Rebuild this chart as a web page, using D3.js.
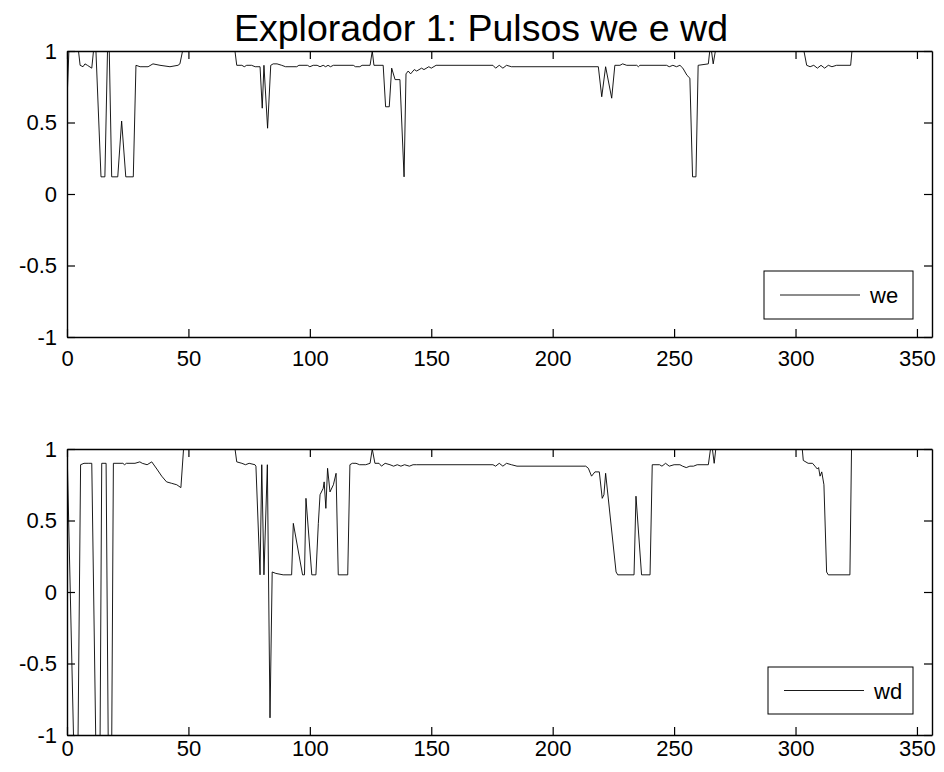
<!DOCTYPE html>
<html><head><meta charset="utf-8">
<script src="https://cdn.jsdelivr.net/npm/d3@7"></script>
<style>body{margin:0;background:#fff;}svg{display:block;font-family:Arial,"Liberation Sans",sans-serif;}</style>
</head><body>
<script>
const titleText = "Explorador 1: Pulsos we e wd";
const xTicks = [0,50,100,150,200,250,300,350];
const yTicks = [-1,-0.5,0,0.5,1];
const yTickLabels = ["-1","-0.5","0","0.5","1"];
const weX = [0,1,4.4,5.4,6.6,7.4,8.4,10.2,11.2,11.8,14.0,15.6,16.8,17.3,18.4,20.9,22.5,24.2,27.3,28.4,30.1,33.4,35.4,38.3,42.4,45.7,46.5,48.2,68.8,69.9,72,73,74,76,77.5,79.5,80.4,81.1,82.6,83.9,84.9,86.5,88.4,90,94.6,95.5,99,100,101.4,103,104.2,105.5,106.5,107.5,108.5,109.7,117.9,118.8,120.6,121.5,124.8,125.7,126.4,130.2,131.2,132.7,133.7,135.1,137.1,138.8,139.6,140.5,141.5,143,144,146,147,149,150,152,175.4,176.5,178,179.5,181,183,185.3,218.8,220.2,221.8,224.3,225.6,227.7,228.8,230.5,234.6,235.3,235.9,246.9,248,249.5,251,252.4,253.6,255.3,256.5,257.6,259,259.9,264.1,265,266.1,267.5,302.9,304.6,306,307.5,309,310.5,312,313.5,315,316.9,322.7,323.5,356];
const weY = [0.65,1.1,1.05,0.9,0.89,0.91,0.9,0.88,1.05,1.05,0.12,0.12,1.1,1.1,0.12,0.12,0.51,0.12,0.12,0.9,0.89,0.89,0.91,0.9,0.89,0.9,0.91,1.05,1.05,0.9,0.9,0.89,0.9,0.9,0.89,0.89,0.6,0.9,0.46,0.9,0.91,0.91,0.9,0.89,0.89,0.9,0.9,0.89,0.9,0.9,0.89,0.9,0.89,0.9,0.89,0.9,0.9,0.89,0.89,0.9,0.9,1.0,0.9,0.9,0.61,0.61,0.88,0.8,0.8,0.12,0.84,0.86,0.84,0.87,0.86,0.88,0.87,0.89,0.88,0.9,0.9,0.88,0.9,0.88,0.9,0.89,0.89,0.89,0.68,0.89,0.67,0.9,0.9,0.91,0.9,0.9,0.89,0.9,0.9,0.89,0.9,0.89,0.9,0.88,0.83,0.81,0.12,0.12,0.9,0.91,1.05,0.91,1.05,1.05,0.9,0.89,0.9,0.88,0.9,0.88,0.9,0.89,0.9,0.9,1.05,1.05];
const wdX = [0,2.8,4.5,5.6,7,9,10.2,11.9,13.6,14.3,16.1,17.0,18.4,19.1,23,23.7,24.5,28,30,31,33,34.9,37,39,41,43.1,45.2,46.9,48.2,68.8,69.9,72,73.5,75,77.4,77.8,79.5,80.2,81.1,82.5,83.6,84.5,86,89,92.5,93.2,97,97.8,98.4,100.8,102.5,103.5,104.2,105.5,105.9,106.6,107.3,108.3,109.7,110.8,111.7,115.6,116.5,117.5,119,120.5,123,124.8,125.7,126.8,128.5,129.5,131,133,134.5,136,137.5,139,141,142.5,144,175.4,176.5,178,179.5,181,183,185.3,213.6,214.7,216,217.4,219.2,220.4,221.1,221.8,226.1,226.8,233.5,234.3,236.6,240.1,241,244,245,246.5,248,250,252.4,253.5,255,256.5,258,259.5,264.1,265.4,266.5,267.5,302.5,303.2,305.2,307,308,309,309.5,310.1,310.8,311.7,312.8,313.5,322.4,323.1,356];
const wdY = [1.02,-1.1,-1.1,0.89,0.9,0.9,0.9,-1.1,-1.1,0.9,0.9,-1.1,-1.1,0.9,0.9,0.89,0.9,0.9,0.91,0.9,0.89,0.91,0.86,0.81,0.77,0.76,0.75,0.73,1.05,1.05,0.91,0.9,0.89,0.9,0.89,0.88,0.12,0.89,0.12,0.89,-0.88,0.14,0.13,0.12,0.12,0.48,0.12,0.12,0.655,0.12,0.12,0.48,0.68,0.725,0.77,0.585,0.865,0.70,0.75,0.83,0.12,0.12,0.89,0.9,0.9,0.89,0.89,0.9,1.0,0.9,0.9,0.88,0.9,0.89,0.88,0.89,0.88,0.89,0.88,0.89,0.89,0.89,0.88,0.9,0.88,0.9,0.89,0.88,0.88,0.865,0.81,0.84,0.84,0.655,0.68,0.83,0.14,0.12,0.12,0.67,0.12,0.12,0.89,0.89,0.88,0.9,0.88,0.89,0.89,0.88,0.87,0.88,0.88,0.89,0.89,1.05,0.9,1.05,1.05,0.92,0.9,0.9,0.88,0.86,0.87,0.81,0.84,0.75,0.14,0.12,0.12,1.05,1.05];
const seriesNames = ["we","wd"];

const W = 944, H = 772;
const svg = d3.select("body").append("svg").attr("width", W).attr("height", H);

svg.append("text").attr("x", 481).attr("y", 41).attr("text-anchor","middle")
  .attr("font-size", 37.5).attr("fill","#000").text(titleText);

const panels = [
  {top: 51, bottom: 337, pad: 13, xs: weX, ys: weY, name: seriesNames[0], leg: {x0: 764, x1: 913, y0: 271, y1: 319}},
  {top: 449, bottom: 735, pad: 5, xs: wdX, ys: wdY, name: seriesNames[1], leg: {x0: 768, x1: 913, y0: 667, y1: 714}}
];
const left = 67, right = 932, tick = 8, fs = 22;

panels.forEach((p, i) => {
  const x = d3.scaleLinear().domain([0, 356.2]).range([left, right]);
  const y = d3.scaleLinear().domain([-1, 1]).range([p.bottom, p.top]);
  const g = svg.append("g");
  const cid = "clip" + i;
  g.append("clipPath").attr("id", cid).append("rect")
    .attr("x", left).attr("y", p.top).attr("width", right - left).attr("height", p.bottom - p.top);
  const pts = p.xs.map((v, k) => [v, p.ys[k]]);
  g.append("path").datum(pts).attr("clip-path", `url(#${cid})`)
    .attr("fill","none").attr("stroke","#000").attr("stroke-width",0.9)
    .attr("d", d3.line().x(d => x(d[0])).y(d => y(d[1])));

  const axB = d3.axisBottom(x).tickValues(xTicks).tickSizeInner(-tick).tickSizeOuter(0).tickPadding(p.pad).tickFormat(d3.format("d"));
  const axT = d3.axisTop(x).tickValues(xTicks).tickSizeInner(-tick).tickSizeOuter(0).tickFormat("");
  const axL = d3.axisLeft(y).tickValues(yTicks).tickSizeInner(-tick).tickSizeOuter(0).tickPadding(10).tickFormat((d, k) => yTickLabels[k]);
  const axR = d3.axisRight(y).tickValues(yTicks).tickSizeInner(-tick).tickSizeOuter(0).tickFormat("");
  const style = sel => {
    sel.selectAll("path").attr("stroke","#000").attr("stroke-width",1.2);
    sel.selectAll("line").attr("stroke","#000").attr("stroke-width",1.2);
    sel.selectAll("text").attr("font-size",fs).attr("fill","#000").attr("font-family","Arial, 'Liberation Sans', sans-serif");
  };
  g.append("g").attr("transform",`translate(0,${p.bottom})`).call(axB).call(style);
  g.append("g").attr("transform",`translate(0,${p.top})`).call(axT).call(style);
  g.append("g").attr("transform",`translate(${left},0)`).call(axL).call(style);
  g.append("g").attr("transform",`translate(${right},0)`).call(axR).call(style);
  g.selectAll(".domain").attr("stroke-width",1.4);

  const L = p.leg;
  g.append("rect").attr("x", L.x0).attr("y", L.y0).attr("width", L.x1 - L.x0).attr("height", L.y1 - L.y0)
    .attr("fill","#fff").attr("stroke","#000").attr("stroke-width",1);
  const my = (L.y0 + L.y1) / 2;
  g.append("line").attr("x1", L.x0 + 16).attr("x2", L.x0 + 96).attr("y1", my).attr("y2", my)
    .attr("stroke","#000").attr("stroke-width",0.9);
  g.append("text").attr("x", L.x0 + 106).attr("y", my + 8).attr("font-size",fs).attr("fill","#000").text(p.name);
});
</script>
</body></html>
